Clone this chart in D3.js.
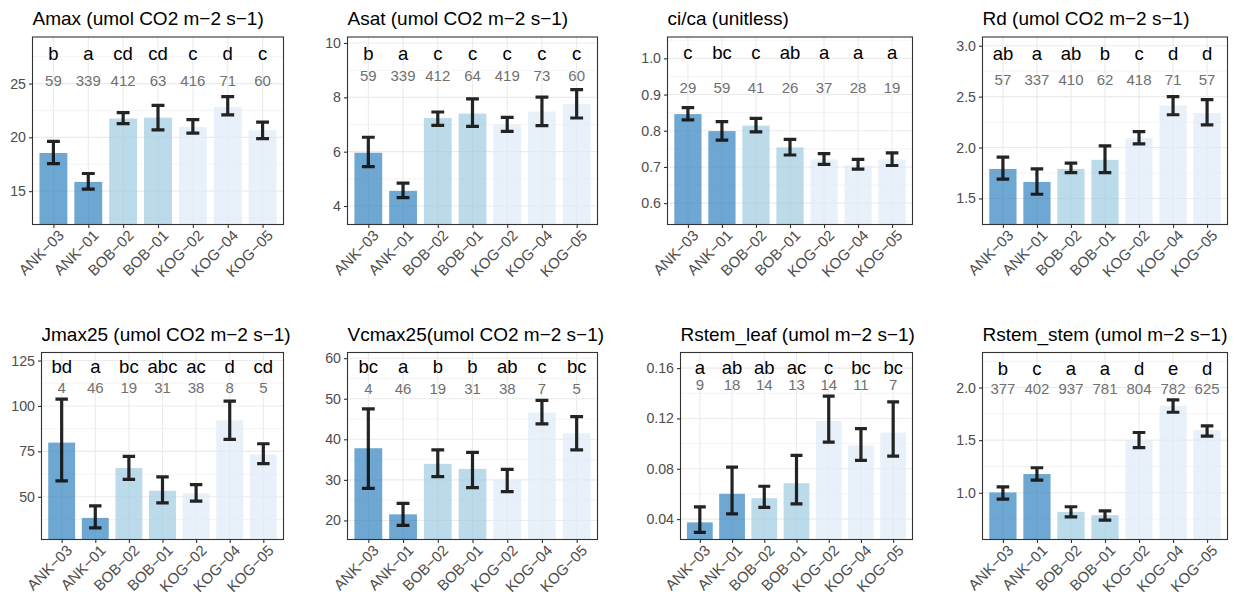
<!DOCTYPE html>
<html>
<head>
<meta charset="utf-8">
<script src="https://cdn.jsdelivr.net/npm/d3@7"></script>
<style>
  body { margin: 0; background: #fff; }
  svg { display: block; font-family: "Liberation Sans", Arial, sans-serif; }
</style>
</head>
<body>
<svg id="chart" width="1239" height="600"></svg>
<script>
// ---------- data ----------
const sites = ["ANK−03", "ANK−01", "BOB−02", "BOB−01", "KOG−02", "KOG−04", "KOG−05"];
const siteGroups = ["ANK", "ANK", "BOB", "BOB", "KOG", "KOG", "KOG"];
const groupNames = ["ANK", "BOB", "KOG"];
const groupFills = ["#3182BD", "#9ECAE1", "#DEEBF7"];

const titles = [
  "Amax (umol CO2 m−2 s−1)", "Asat (umol CO2 m−2 s−1)", "ci/ca (unitless)", "Rd (umol CO2 m−2 s−1)",
  "Jmax25 (umol CO2 m−2 s−1)", "Vcmax25(umol CO2 m−2 s−1)", "Rstem_leaf (umol m−2 s−1)", "Rstem_stem (umol m−2 s−1)"
];

const amaxMean = [18.55, 15.86, 21.75, 21.83, 20.97, 22.82, 20.66];
const amaxLow  = [17.56, 15.19, 21.27, 20.70, 20.40, 22.10, 19.88];
const amaxHigh = [19.63, 16.64, 22.30, 22.97, 21.64, 23.78, 21.42];
const amaxLetters = ["b", "a", "cd", "cd", "c", "d", "c"];
const amaxN = [59, 339, 412, 63, 416, 71, 60];

const asatMean = [5.96, 4.56, 7.24, 7.40, 6.99, 7.48, 7.76];
const asatLow  = [5.45, 4.31, 6.97, 6.93, 6.75, 6.96, 7.24];
const asatHigh = [6.53, 4.84, 7.46, 7.94, 7.26, 8.01, 8.28];
const asatLetters = ["b", "a", "c", "c", "c", "c", "c"];
const asatN = [59, 339, 412, 64, 419, 73, 60];

const cicaMean = [0.846, 0.799, 0.814, 0.754, 0.721, 0.704, 0.721];
const cicaLow  = [0.830, 0.774, 0.797, 0.733, 0.707, 0.694, 0.704];
const cicaHigh = [0.864, 0.825, 0.834, 0.776, 0.737, 0.721, 0.739];
const cicaLetters = ["c", "bc", "c", "ab", "a", "a", "a"];
const cicaN = [29, 59, 41, 26, 37, 28, 19];

const rdMean = [1.790, 1.662, 1.790, 1.879, 2.092, 2.414, 2.339];
const rdLow  = [1.689, 1.541, 1.754, 1.754, 2.036, 2.322, 2.223];
const rdHigh = [1.905, 1.790, 1.846, 2.017, 2.157, 2.500, 2.470];
const rdLetters = ["ab", "a", "ab", "b", "c", "d", "d"];
const rdN = [57, 337, 410, 62, 418, 71, 57];

const jmaxMean = [79.8, 38.4, 65.8, 53.3, 51.9, 92.1, 73.3];
const jmaxLow  = [58.8, 32.9, 59.6, 46.7, 47.6, 81.6, 68.2];
const jmaxHigh = [103.7, 45.0, 72.2, 61.0, 56.7, 102.6, 79.2];
const jmaxLetters = ["bd", "a", "bc", "abc", "ac", "d", "cd"];
const jmaxN = [4, 46, 19, 31, 38, 8, 5];

const vcmaxMean = [37.8, 21.5, 33.95, 32.7, 30.0, 46.6, 41.5];
const vcmaxLow  = [27.9, 18.8, 30.8, 28.1, 27.1, 43.8, 37.4];
const vcmaxHigh = [47.5, 24.2, 37.4, 36.8, 32.6, 49.6, 45.6];
const vcmaxLetters = ["bc", "a", "b", "b", "ab", "c", "bc"];
const vcmaxN = [4, 46, 19, 31, 38, 7, 5];

const rleafMean = [0.0374, 0.0601, 0.0566, 0.0685, 0.1181, 0.0986, 0.1087];
const rleafLow  = [0.0294, 0.0441, 0.0494, 0.0521, 0.1012, 0.0866, 0.0901];
const rleafHigh = [0.0498, 0.0813, 0.0661, 0.0906, 0.1378, 0.1119, 0.1331];
const rleafLetters = ["a", "ab", "ab", "ac", "c", "bc", "bc"];
const rleafN = [9, 18, 14, 13, 14, 11, 7];

const rstemMean = [1.003, 1.178, 0.819, 0.787, 1.500, 1.826, 1.595];
const rstemLow  = [0.940, 1.120, 0.771, 0.740, 1.430, 1.765, 1.538];
const rstemHigh = [1.057, 1.238, 0.867, 0.828, 1.573, 1.883, 1.636];
const rstemLetters = ["b", "c", "a", "a", "d", "e", "d"];
const rstemN = [377, 402, 937, 781, 804, 782, 625];

// y-axis tick labels
const amaxTicks = [15, 20, 25];
const asatTicks = [4, 6, 8, 10];
const cicaTicks = [0.6, 0.7, 0.8, 0.9, 1.0];
const rdTicks = [1.5, 2.0, 2.5, 3.0];
const jmaxTicks = [50, 75, 100, 125];
const vcmaxTicks = [20, 30, 40, 50, 60];
const rleafTicks = [0.04, 0.08, 0.12, 0.16];
const rstemTicks = [1.0, 1.5, 2.0];

// y-axis ranges and label heights (data units)
const yDomains = [[11.9, 29.33], [3.32, 10.22], [0.541, 1.059], [1.244, 3.086],
                  [26.5, 129.4], [15.3, 61.4], [0.0238, 0.1724], [0.556, 2.333]];
const letterYs = [27.8, 9.63, 1.015, 2.928, 121.7, 57.9, 0.1605, 2.185];
const countYs  = [25.3, 8.79, 0.92, 2.671, 110.1, 52.6, 0.1467, 1.994];
const tickFormats = ["d", "d", ".1f", ".1f", "d", "d", ".2f", ".1f"];

// ---------- layout ----------
const panelBoxes = [
  [32.5, 283.5, 37, 224.5], [347.5, 597.5, 37, 224.5], [667.5, 912.5, 37, 224.5], [982.5, 1227.5, 37, 224.5],
  [41.5, 283.5, 352.5, 539.5], [347.5, 597.5, 352.5, 539.5], [680.5, 912.5, 352.5, 539.5], [982.5, 1227.5, 352.5, 539.5]
];

const panels = [
  [amaxMean, amaxLow, amaxHigh, amaxLetters, amaxN, amaxTicks],
  [asatMean, asatLow, asatHigh, asatLetters, asatN, asatTicks],
  [cicaMean, cicaLow, cicaHigh, cicaLetters, cicaN, cicaTicks],
  [rdMean, rdLow, rdHigh, rdLetters, rdN, rdTicks],
  [jmaxMean, jmaxLow, jmaxHigh, jmaxLetters, jmaxN, jmaxTicks],
  [vcmaxMean, vcmaxLow, vcmaxHigh, vcmaxLetters, vcmaxN, vcmaxTicks],
  [rleafMean, rleafLow, rleafHigh, rleafLetters, rleafN, rleafTicks],
  [rstemMean, rstemLow, rstemHigh, rstemLetters, rstemN, rstemTicks]
];

const svg = d3.select("#chart");
const color = d3.scaleOrdinal().domain(groupNames).range(groupFills);

panels.forEach((p, i) => {
  const [mean, low, high, letters, ns, ticks] = p;
  const [x0, x1, y0, y1] = panelBoxes[i];
  const g = svg.append("g");

  // discrete x with ggplot-style 0.6 expansion
  const step = (x1 - x0) / (sites.length - 1 + 1.2);
  const xc = d3.scalePoint().domain(sites).range([x0 + 0.6 * step, x1 - 0.6 * step]);
  const y = d3.scaleLinear().domain(yDomains[i]).range([y1, y0]);

  // clip
  const clipId = "clip" + i;
  svg.append("clipPath").attr("id", clipId)
    .append("rect").attr("x", x0).attr("y", y0).attr("width", x1 - x0).attr("height", y1 - y0);

  const inner = g.append("g").attr("clip-path", `url(#${clipId})`);

  // minor grid
  const tStep = ticks[1] - ticks[0];
  const minor = [];
  for (let k = -1; k < ticks.length + 1; k++) minor.push(ticks[0] + (k + 0.5) * tStep);
  inner.selectAll(".minor").data(minor).join("line")
    .attr("x1", x0).attr("x2", x1).attr("y1", d => y(d)).attr("y2", d => y(d))
    .attr("stroke", "#EBEBEB").attr("stroke-width", 0.55);
  // major grid
  inner.selectAll(".majorY").data(ticks).join("line")
    .attr("x1", x0).attr("x2", x1).attr("y1", d => y(d)).attr("y2", d => y(d))
    .attr("stroke", "#EBEBEB").attr("stroke-width", 1.1);
  inner.selectAll(".majorX").data(sites).join("line")
    .attr("x1", d => xc(d)).attr("x2", d => xc(d)).attr("y1", y0).attr("y2", y1)
    .attr("stroke", "#EBEBEB").attr("stroke-width", 1.1);

  // bars
  const bw = 0.8 * step;
  inner.selectAll(".bar").data(sites).join("rect")
    .attr("x", d => xc(d) - bw / 2)
    .attr("width", bw)
    .attr("y", (d, j) => y(mean[j]))
    .attr("height", (d, j) => y(yDomains[i][0]) - y(mean[j]) + 2)
    .attr("fill", (d, j) => color(siteGroups[j]))
    .attr("fill-opacity", 0.7);

  // error bars
  const cw = 0.37 * step;
  const eb = inner.selectAll(".eb").data(sites).join("g").attr("stroke", "#111").attr("stroke-opacity", 0.92)
    .attr("stroke-width", 3.2).attr("fill", "none");
  eb.append("path").attr("d", (d, j) => {
    const cx = xc(d), a = y(high[j]), b = y(low[j]);
    return `M${cx - cw / 2},${a}H${cx + cw / 2}M${cx},${a}V${b}M${cx - cw / 2},${b}H${cx + cw / 2}`;
  }).attr("stroke-linecap", "butt");

  // letters & counts
  inner.selectAll(".lt").data(letters).join("text")
    .attr("x", (d, j) => xc(sites[j])).attr("y", y(letterYs[i]))
    .attr("text-anchor", "middle").attr("dominant-baseline", "central")
    .attr("font-size", 18.5).attr("fill", "#000").text(d => d);
  inner.selectAll(".ct").data(ns).join("text")
    .attr("x", (d, j) => xc(sites[j])).attr("y", y(countYs[i]))
    .attr("text-anchor", "middle").attr("dominant-baseline", "central")
    .attr("font-size", 15).attr("fill", "#707070").text(d => d);

  // panel border
  g.append("rect").attr("x", x0).attr("y", y0).attr("width", x1 - x0).attr("height", y1 - y0)
    .attr("fill", "none").attr("stroke", "#333333").attr("stroke-width", 1.1);

  // y axis
  const yAxis = d3.axisLeft(y).tickValues(ticks).tickSize(3.5).tickPadding(3)
    .tickFormat(d3.format(tickFormats[i]));
  const ya = g.append("g").attr("transform", `translate(${x0},0)`).call(yAxis);
  ya.select(".domain").remove();
  ya.selectAll(".tick line").attr("stroke", "#333333").attr("stroke-width", 1.1);
  ya.selectAll(".tick text").attr("fill", "#4D4D4D").attr("font-size", 14.2)
    .attr("font-family", "Liberation Sans, Arial, sans-serif");

  // x axis
  const xAxis = d3.axisBottom(xc).tickSize(3.5).tickPadding(3);
  const xa = g.append("g").attr("transform", `translate(0,${y1})`).call(xAxis);
  xa.select(".domain").remove();
  xa.selectAll(".tick line").attr("stroke", "#333333").attr("stroke-width", 1.1);
  xa.selectAll(".tick text")
    .attr("fill", "#4D4D4D").attr("font-size", 15)
    .attr("font-family", "Liberation Sans, Arial, sans-serif")
    .attr("text-anchor", "end").attr("dy", null).attr("y", 0)
    .attr("dominant-baseline", "hanging")
    .attr("transform", "translate(3,4) rotate(-45)");

  // title
  g.append("text").attr("x", x0).attr("y", y0 - 12)
    .attr("font-size", 19).attr("fill", "#000").text(titles[i]);
});
</script>
</body>
</html>
